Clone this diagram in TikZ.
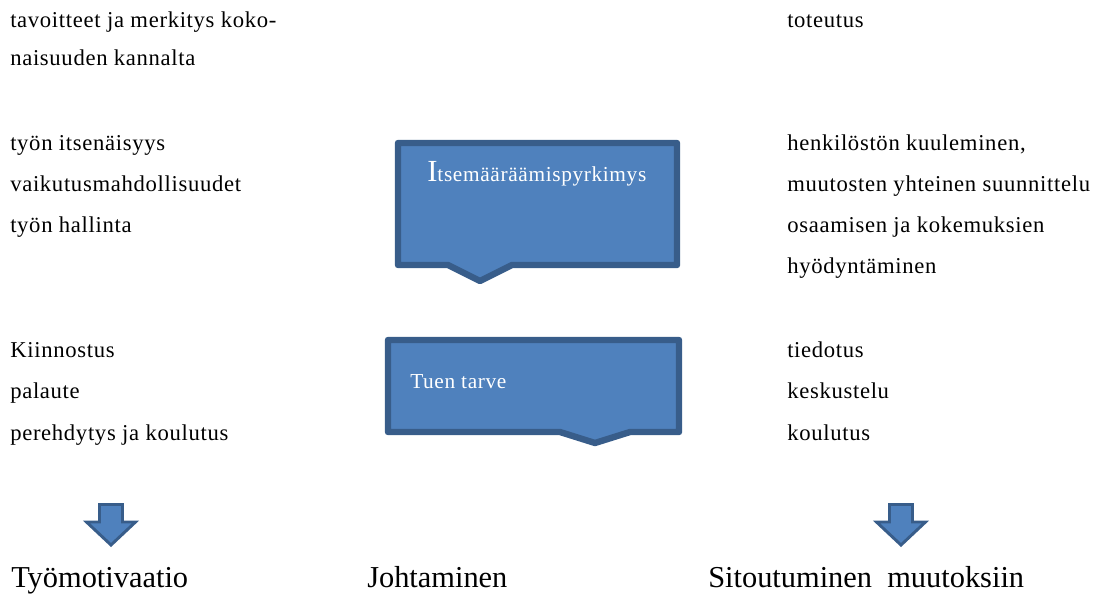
\documentclass[tikz,border=0pt]{standalone}
\usepackage{fontspec}
\setmainfont{Liberation Serif}
\newfontfamily\spacedfont{Liberation Serif}[LetterSpace=3]
\definecolor{boxfill}{HTML}{4F81BD}
\definecolor{boxline}{HTML}{385D8A}
\tikzset{
  item/.style={anchor=base west, inner sep=0pt, font=\spacedfont\fontsize{17}{20}\selectfont},
  heading/.style={anchor=base west, inner sep=0pt, font=\fontsize{22.8}{26}\selectfont},
  boxlabel/.style={anchor=base west, inner sep=0pt, text=white, font=\spacedfont\fontsize{16}{20}\selectfont},
  callout/.style={fill=boxfill, draw=boxline, line width=4.8pt, line join=round},
  downarrow/.style={fill=boxfill, draw=boxline, line width=2.2pt, line join=miter}
}
\begin{document}
\begin{tikzpicture}[x=0.75pt, y=-0.75pt]
    \useasboundingbox (0,0) rectangle (1100,593);
    % callouts in the middle
    \draw[callout] (398,143) -- (677,143) -- (677,265) -- (512,265) -- (480,281)
        -- (448,265) -- (398,265) -- cycle;
    \draw[callout] (388,340) -- (679,340) -- (679,432) -- (630,432) -- (595,443)
        -- (560,432) -- (388,432) -- cycle;
    \node[boxlabel] (pyrkimys) at (427,181) {{\fontsize{23}{26}\selectfont I}tsemääräämispyrkimys};
    \node[boxlabel] (tuki) at (410,388) {Tuen tarve};
    % left column
    \node[item] (tavoite1) at (10,27) {tavoitteet ja merkitys koko-};
    \node[item] (tavoite2) at (10,65) {naisuuden kannalta};
    \node[item] (itsen) at (10,150) {työn itsenäisyys};
    \node[item] (vaikutus) at (10,191) {vaikutusmahdollisuudet};
    \node[item] (hallinta) at (10,232) {työn hallinta};
    \node[item] (kiinnostus) at (10,357) {Kiinnostus};
    \node[item] (palaute) at (10,398) {palaute};
    \node[item] (perehdytys) at (10,440) {perehdytys ja koulutus};
    % right column
    \node[item] (toteutus) at (787,27) {toteutus};
    \node[item] (kuuleminen) at (787,150) {henkilöstön kuuleminen,};
    \node[item] (suunnittelu) at (787,191) {muutosten yhteinen suunnittelu};
    \node[item] (osaaminen1) at (787,232) {osaamisen ja kokemuksien};
    \node[item] (osaaminen2) at (787,273) {hyödyntäminen};
    \node[item] (tiedotus) at (787,357) {tiedotus};
    \node[item] (keskustelu) at (787,398) {keskustelu};
    \node[item] (koulutus) at (787,440) {koulutus};
    % block arrows
    \foreach \cx in {111,901}
        \draw[downarrow] (\cx-11.5,504.5) -- (\cx+11.5,504.5) -- (\cx+11.5,522)
            -- (\cx+24.5,522) -- (\cx,545) -- (\cx-24.5,522) -- (\cx-11.5,522) -- cycle;
    % bottom headings
    \node[heading] (motivaatio) at (11,587) {Työmotivaatio};
    \node[heading] (johtaminen) at (367,587) {Johtaminen};
    \node[heading] (sitoutuminen) at (708,587) {Sitoutuminen\ \ muutoksiin};
\end{tikzpicture}
\end{document}
